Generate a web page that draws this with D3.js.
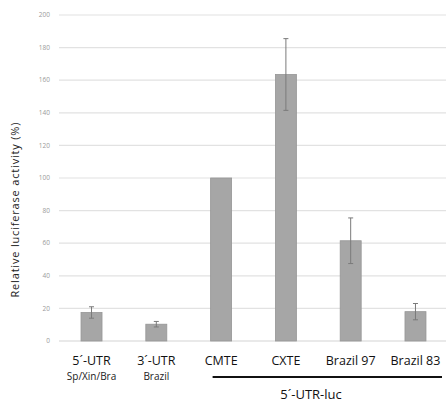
<!DOCTYPE html>
<html>
<head>
<meta charset="utf-8">
<script src="https://cdn.jsdelivr.net/npm/d3@7"></script>
<style>
  body { margin: 0; background: #fff; }
  svg { display: block; font-family: "Open Sans", "Noto Sans", sans-serif; }
</style>
</head>
<body>
<svg id="chart" width="446" height="403"></svg>
<script>
const categories = ['5´-UTR', '3´-UTR', 'CMTE', 'CXTE', 'Brazil 97', 'Brazil 83']
const subLabels = ['Sp/Xin/Bra', 'Brazil', '', '', '', '']
const values = [17.5, 10.3, 100, 163.5, 61.5, 18]
const errors = [3.5, 1.7, 0, 22, 14, 5]
const yTicks = [0, 20, 40, 60, 80, 100, 120, 140, 160, 180, 200]
const groupLabel = '5´-UTR-luc'
const groupStart = 'CMTE'

const margin = { top: 15, right: 0, bottom: 62, left: 59 }
const width = 446
const height = 403

const svg = d3.select('#chart')

const x = d3.scaleBand()
  .domain(categories)
  .range([59, 448])
  .paddingInner(0.676)
  .paddingOuter(0.34)

const y = d3.scaleLinear().domain([0, 200]).range([height - margin.bottom, margin.top])

// gridlines
svg.append('g')
  .selectAll('line')
  .data(yTicks)
  .join('line')
  .attr('x1', margin.left)
  .attr('x2', width)
  .attr('y1', (d) => y(d))
  .attr('y2', (d) => y(d))
  .attr('stroke', (d) => (d === 0 ? '#d4d4d4' : '#e2e2e2'))
  .attr('stroke-width', 1.2)

// y tick labels
svg.append('g')
  .selectAll('text')
  .data(yTicks)
  .join('text')
  .attr('x', 50)
  .attr('y', (d) => y(d))
  .attr('dy', '0.35em')
  .attr('text-anchor', 'end')
  .attr('font-size', 6.5)
  .attr('fill', '#9a9a9a')
  .text((d) => d)

// bars
svg.append('g')
  .selectAll('rect')
  .data(categories)
  .join('rect')
  .attr('x', (d) => x(d))
  .attr('width', x.bandwidth())
  .attr('y', (d, i) => y(values[i]))
  .attr('height', (d, i) => y(0) - y(values[i]))
  .attr('fill', '#a6a6a6')
  .attr('stroke', '#969696')
  .attr('stroke-width', 0.8)

// error bars
const eg = svg.append('g').attr('stroke', '#7a7a7a').attr('stroke-width', 1)
categories.forEach((c, i) => {
  if (!errors[i]) return
  const cx = x(c) + x.bandwidth() / 2
  const lo = y(values[i] - errors[i])
  const hi = y(values[i] + errors[i])
  eg.append('line').attr('x1', cx).attr('x2', cx).attr('y1', lo).attr('y2', hi)
  eg.append('line').attr('x1', cx - 2.5).attr('x2', cx + 2.5).attr('y1', lo).attr('y2', lo)
  eg.append('line').attr('x1', cx - 2.5).attr('x2', cx + 2.5).attr('y1', hi).attr('y2', hi)
})

// category labels
svg.append('g')
  .selectAll('text')
  .data(categories)
  .join('text')
  .attr('x', (d) => x(d) + x.bandwidth() / 2)
  .attr('y', 365)
  .attr('text-anchor', 'middle')
  .attr('font-size', 12.5)
  .attr('fill', '#111')
  .text((d) => d)

svg.append('g')
  .selectAll('text')
  .data(categories)
  .join('text')
  .attr('x', (d) => x(d) + x.bandwidth() / 2)
  .attr('y', 380)
  .attr('text-anchor', 'middle')
  .attr('font-size', 10)
  .attr('fill', '#222')
  .text((d, i) => subLabels[i])

// group bracket under the 5'-UTR-luc constructs
svg.append('line')
  .attr('x1', x(groupStart) + 2)
  .attr('x2', 442)
  .attr('y1', 377)
  .attr('y2', 377)
  .attr('stroke', '#111')
  .attr('stroke-width', 2)

svg.append('text')
  .attr('x', 311)
  .attr('y', 399)
  .attr('text-anchor', 'middle')
  .attr('font-size', 13)
  .attr('fill', '#111')
  .text(groupLabel)

// y axis title
svg.append('text')
  .attr('transform', 'translate(19,210) rotate(-90)')
  .attr('text-anchor', 'middle')
  .attr('font-size', 11)
  .attr('textLength', 175)
  .attr('fill', '#222')
  .text('Relative luciferase activity (%)')
</script>
</body>
</html>
